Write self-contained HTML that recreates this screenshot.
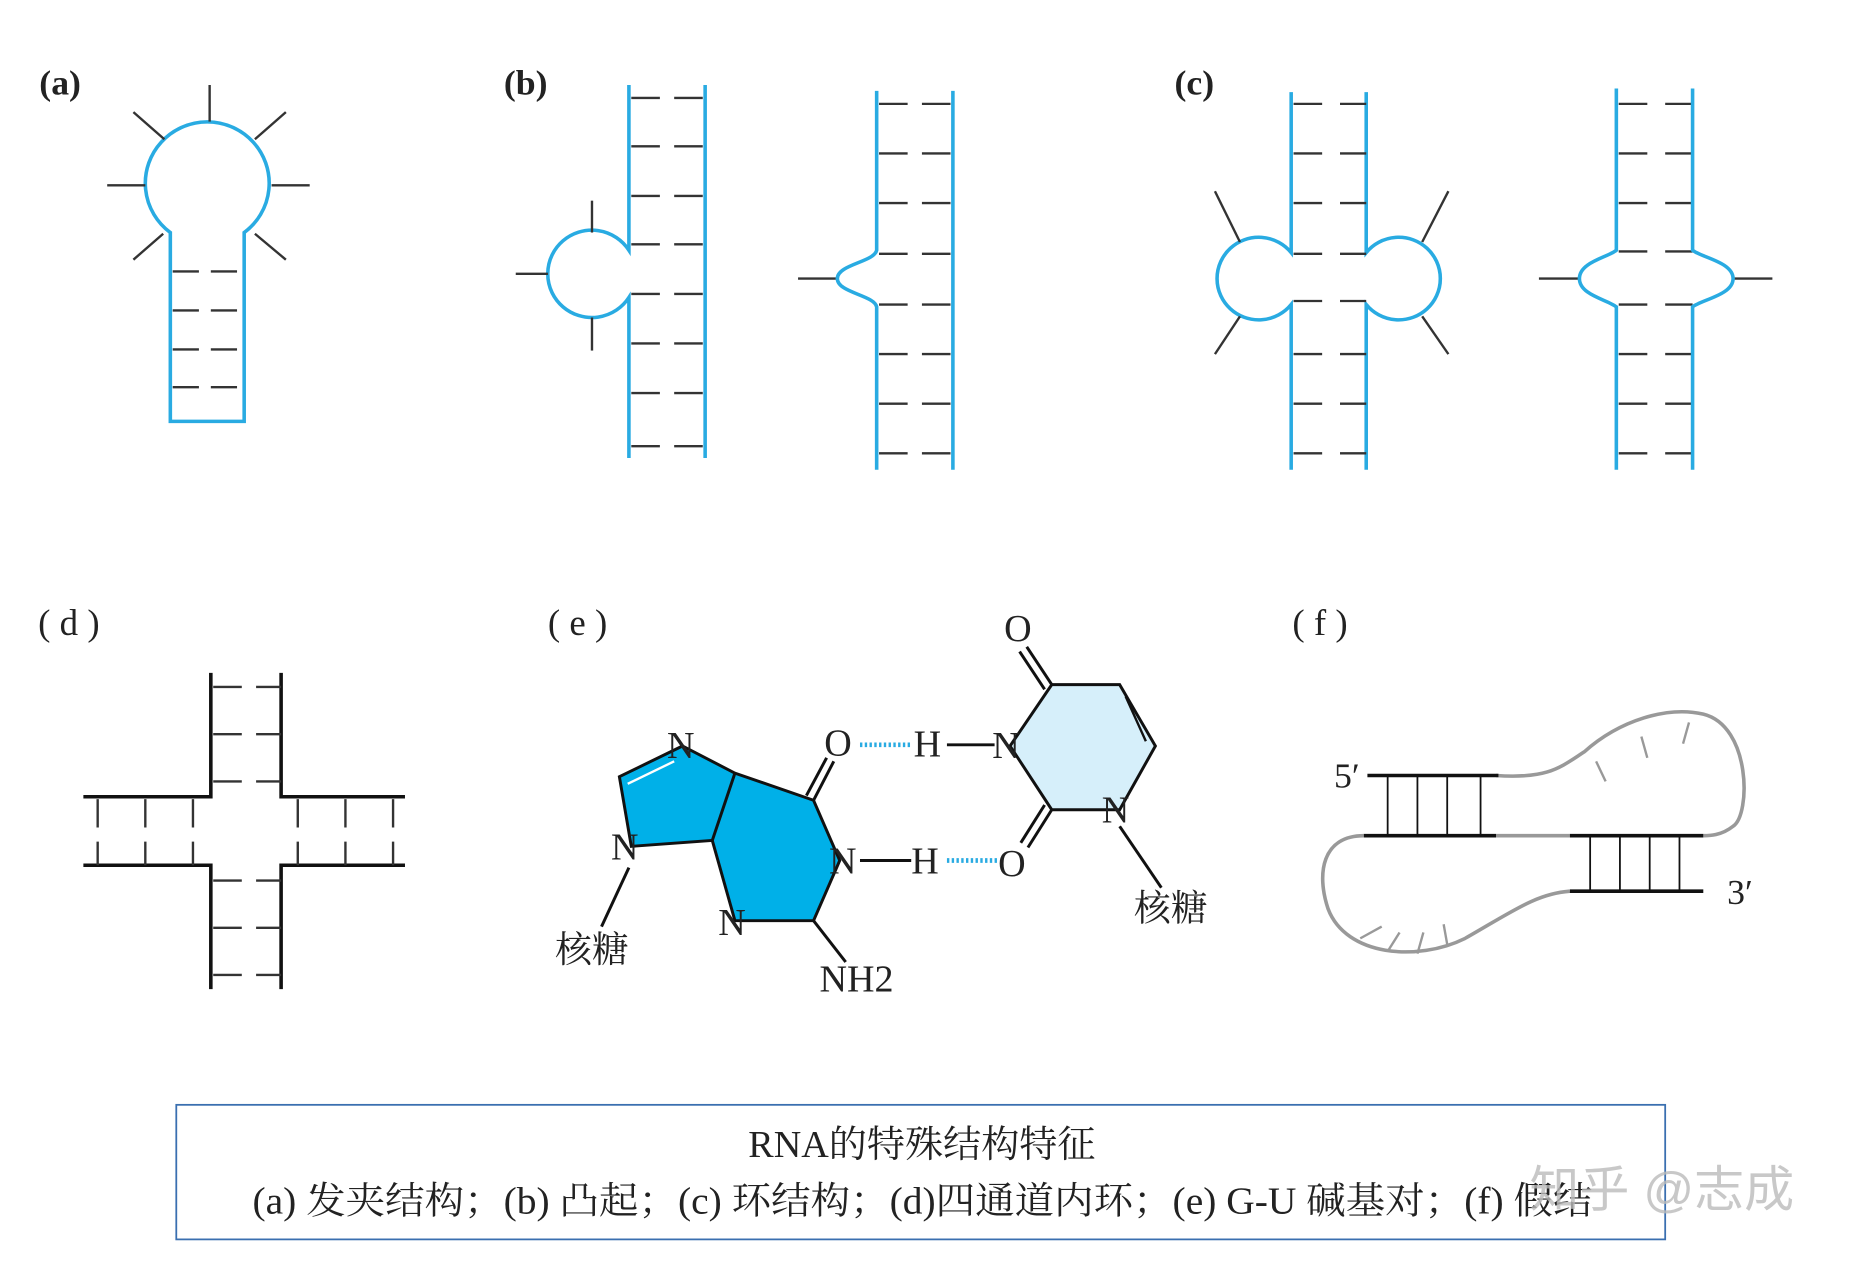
<!DOCTYPE html>
<html><head><meta charset="utf-8"><style>
html,body{margin:0;padding:0;background:#fff;}
svg{display:block}
text{font-family:"Liberation Serif","Noto Serif CJK SC",serif;fill:#222}
</style></head><body>
<svg width="1851" height="1263" viewBox="0 0 1554 1070" preserveAspectRatio="none" xmlns="http://www.w3.org/2000/svg">
<g fill="none" stroke-linecap="butt">
<text x="33" y="80" font-size="30" font-weight="bold">(a)</text>
<path d="M143,357 V197 A52 52 0 1 1 205 197 V357 Z" stroke="#29abe2" stroke-width="3"/>
<g stroke="#333" stroke-width="2">
<line x1="176" y1="72" x2="176" y2="103"/><line x1="90" y1="157" x2="122" y2="157"/><line x1="228" y1="157" x2="260" y2="157"/>
<line x1="112" y1="95" x2="138" y2="118"/><line x1="240" y1="95" x2="214" y2="118"/>
<line x1="112" y1="220" x2="137" y2="198"/><line x1="240" y1="220" x2="214" y2="198"/>
</g>
<g stroke="#333" stroke-width="2" stroke-dasharray="22,10">
<line x1="145" y1="230" x2="204" y2="230"/><line x1="145" y1="263" x2="204" y2="263"/><line x1="145" y1="296" x2="204" y2="296"/><line x1="145" y1="328" x2="204" y2="328"/>
</g>
<text x="423" y="80" font-size="30" font-weight="bold">(b)</text>
<path d="M528,72 V212 A37 37 0 1 0 528 252 V388" stroke="#29abe2" stroke-width="3"/>
<line x1="592" y1="72" x2="592" y2="388" stroke="#29abe2" stroke-width="3"/>
<g stroke="#333" stroke-width="2">
<line x1="497" y1="170" x2="497" y2="197"/><line x1="433" y1="232" x2="460" y2="232"/><line x1="497" y1="269" x2="497" y2="297"/>
<line x1="670" y1="236" x2="703" y2="236"/>
</g>
<g stroke="#333" stroke-width="2" stroke-dasharray="24,12">
<line x1="530" y1="83" x2="592" y2="83"/><line x1="530" y1="124" x2="592" y2="124"/><line x1="530" y1="166" x2="592" y2="166"/><line x1="530" y1="207" x2="592" y2="207"/><line x1="530" y1="249" x2="592" y2="249"/><line x1="530" y1="291" x2="592" y2="291"/><line x1="530" y1="333" x2="592" y2="333"/><line x1="530" y1="378" x2="592" y2="378"/>
<line x1="738" y1="88" x2="800" y2="88"/><line x1="738" y1="130" x2="800" y2="130"/><line x1="738" y1="172" x2="800" y2="172"/><line x1="738" y1="215" x2="800" y2="215"/><line x1="738" y1="258" x2="800" y2="258"/><line x1="738" y1="300" x2="800" y2="300"/><line x1="738" y1="342" x2="800" y2="342"/><line x1="738" y1="384" x2="800" y2="384"/>
</g>
<path d="M736,77 V212 C734,222 703,224 703,236 C703,248 734,250 736,260 V398" stroke="#29abe2" stroke-width="3"/>
<line x1="800" y1="77" x2="800" y2="398" stroke="#29abe2" stroke-width="3"/>
<text x="986" y="80" font-size="30" font-weight="bold">(c)</text>
<path d="M1084,78 V214 A35 35 0 1 0 1084 258 V398" stroke="#29abe2" stroke-width="3"/>
<path d="M1147,78 V214 A35 35 0 1 1 1147 258 V398" stroke="#29abe2" stroke-width="3"/>
<g stroke="#333" stroke-width="2">
<line x1="1020" y1="162" x2="1041" y2="205"/><line x1="1020" y1="300" x2="1041" y2="268"/>
<line x1="1216" y1="162" x2="1194" y2="205"/><line x1="1216" y1="300" x2="1194" y2="268"/>
<line x1="1292" y1="236" x2="1326" y2="236"/><line x1="1455" y1="236" x2="1488" y2="236"/>
</g>
<g stroke="#333" stroke-width="2" stroke-dasharray="24,15">
<line x1="1086" y1="88" x2="1147" y2="88"/><line x1="1086" y1="130" x2="1147" y2="130"/><line x1="1086" y1="172" x2="1147" y2="172"/><line x1="1086" y1="215" x2="1147" y2="215"/><line x1="1086" y1="255" x2="1147" y2="255"/><line x1="1086" y1="300" x2="1147" y2="300"/><line x1="1086" y1="342" x2="1147" y2="342"/><line x1="1086" y1="384" x2="1147" y2="384"/>
<line x1="1359" y1="88" x2="1421" y2="88"/><line x1="1359" y1="130" x2="1421" y2="130"/><line x1="1359" y1="172" x2="1421" y2="172"/><line x1="1359" y1="213" x2="1421" y2="213"/><line x1="1359" y1="258" x2="1421" y2="258"/><line x1="1359" y1="300" x2="1421" y2="300"/><line x1="1359" y1="342" x2="1421" y2="342"/><line x1="1359" y1="384" x2="1421" y2="384"/>
</g>
<path d="M1357,75 V212 C1350,218 1326,222 1326,236 C1326,250 1350,254 1357,260 V398" stroke="#29abe2" stroke-width="3"/>
<path d="M1421,75 V212 C1428,218 1455,222 1455,236 C1455,250 1428,254 1421,260 V398" stroke="#29abe2" stroke-width="3"/>
<text x="32" y="538" font-size="31">( d )</text>
<g stroke="#111" stroke-width="3">
<path d="M177,570 V675 H70"/><path d="M236,570 V675 H340"/><path d="M70,733 H177 V838"/><path d="M340,733 H236 V838"/>
</g>
<g stroke="#333" stroke-width="2" stroke-dasharray="24,12">
<line x1="179" y1="582" x2="236" y2="582"/><line x1="179" y1="622" x2="236" y2="622"/><line x1="179" y1="662" x2="236" y2="662"/>
<line x1="179" y1="746" x2="236" y2="746"/><line x1="179" y1="786" x2="236" y2="786"/><line x1="179" y1="826" x2="236" y2="826"/>
<line x1="82" y1="677" x2="82" y2="733"/><line x1="122" y1="677" x2="122" y2="733"/><line x1="162" y1="677" x2="162" y2="733"/>
<line x1="250" y1="677" x2="250" y2="733"/><line x1="290" y1="677" x2="290" y2="733"/><line x1="330" y1="677" x2="330" y2="733"/>
</g>
<text x="460" y="538" font-size="31">( e )</text>
<polygon points="573,632 520,658 530,717 598,712 617,780 683,780 705,729 683,678 617,655" fill="#00b0e8" stroke="#111" stroke-width="2.5"/>
<line x1="617" y1="655" x2="598" y2="712" stroke="#111" stroke-width="2.5"/>
<line x1="527" y1="664" x2="566" y2="645" stroke="#fff" stroke-width="2"/>
<polygon points="848,632 883,580 940,580 970,632 940,686 883,686" fill="#d6effa" stroke="#111" stroke-width="2.5"/>
<line x1="945" y1="590" x2="962" y2="628" stroke="#111" stroke-width="2"/>
<g stroke="#111" stroke-width="2.5">
<line x1="883" y1="580" x2="862" y2="548"/><line x1="877" y1="584" x2="856" y2="552"/>
<line x1="883" y1="686" x2="863" y2="718"/><line x1="877" y1="682" x2="857" y2="714"/>
<line x1="683" y1="678" x2="700" y2="645"/><line x1="677" y1="674" x2="694" y2="642"/>
<line x1="940" y1="700" x2="975" y2="752"/><line x1="528" y1="735" x2="505" y2="785"/>
<line x1="683" y1="780" x2="710" y2="815"/>
<line x1="795" y1="631" x2="835" y2="631"/><line x1="722" y1="729" x2="765" y2="729"/>
</g>
<g stroke="#29abe2" stroke-width="4" stroke-dasharray="2,2">
<line x1="722" y1="631" x2="765" y2="631"/><line x1="795" y1="729" x2="838" y2="729"/>
</g>
<g font-size="32">
<text x="560" y="642">N</text><text x="513" y="728">N</text><text x="603" y="792">N</text><text x="696" y="740">N</text>
<text x="692" y="640">O</text><text x="767" y="641">H</text><text x="833" y="642">N</text>
<text x="765" y="740">H</text><text x="838" y="742">O</text>
<text x="843" y="543">O</text><text x="925" y="697">N</text>
<text x="688" y="840">NH2</text>
<text x="466" y="815" font-size="31">核糖</text><text x="952" y="780" font-size="31">核糖</text>
</g>
<text x="1085" y="538" font-size="31">( f )</text>
<g stroke="#999" stroke-width="3">
<path d="M1256,657 C1300,660 1310,650 1330,637 C1360,610 1400,598 1430,605 C1470,615 1470,690 1455,700 C1445,708 1435,708 1430,708"/>
<path d="M1145,708 C1110,708 1105,740 1115,770 C1130,810 1190,815 1230,795 C1270,772 1290,757 1318,755"/>
<path d="M1256,708 H1318"/>
</g>
<g stroke="#999" stroke-width="2">
<line x1="1340" y1="645" x2="1348" y2="662"/><line x1="1378" y1="624" x2="1383" y2="642"/><line x1="1418" y1="612" x2="1413" y2="630"/>
<line x1="1142" y1="795" x2="1160" y2="785"/><line x1="1165" y1="806" x2="1175" y2="790"/><line x1="1190" y1="808" x2="1195" y2="790"/><line x1="1215" y1="800" x2="1212" y2="783"/>
</g>
<g stroke="#111" stroke-width="3">
<line x1="1148" y1="657" x2="1258" y2="657"/><line x1="1145" y1="708" x2="1256" y2="708"/>
<line x1="1318" y1="708" x2="1430" y2="708"/><line x1="1318" y1="755" x2="1430" y2="755"/>
</g>
<g stroke="#111" stroke-width="1.5">
<line x1="1165" y1="657" x2="1165" y2="708"/><line x1="1190" y1="657" x2="1190" y2="708"/><line x1="1215" y1="657" x2="1215" y2="708"/><line x1="1243" y1="657" x2="1243" y2="708"/>
<line x1="1335" y1="708" x2="1335" y2="755"/><line x1="1360" y1="708" x2="1360" y2="755"/><line x1="1385" y1="708" x2="1385" y2="755"/><line x1="1410" y1="708" x2="1410" y2="755"/>
</g>
<text x="1120" y="667" font-size="30">5′</text><text x="1450" y="766" font-size="30">3′</text>
<rect x="148" y="936" width="1250" height="114" stroke="#3a6fb0" stroke-width="1.5"/>
</g>
<text x="774" y="980" font-size="32" text-anchor="middle">RNA的特殊结构特征</text>
<text x="212" y="1028" font-size="32" textLength="1125" lengthAdjust="spacingAndGlyphs">(a) 发夹结构；(b) 凸起；(c) 环结构；(d)四通道内环；(e) G-U 碱基对；(f) 假结</text>
<text x="1284" y="1022" font-size="42" style="fill:#bbb;font-family:'Liberation Sans','Noto Sans CJK SC',sans-serif" opacity="0.8">知乎 @志成</text>
</svg>
</body></html>
